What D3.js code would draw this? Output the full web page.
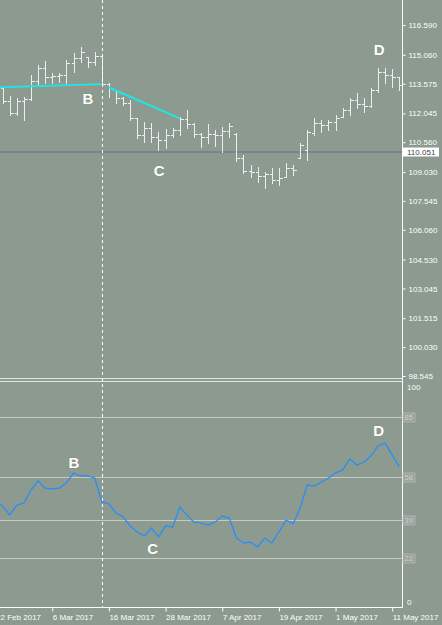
<!DOCTYPE html>
<html>
<head>
<meta charset="UTF-8">
<title>USDJPY Daily</title>
<style>
  body { margin: 0; padding: 0; background: #8c9a90; }
  svg { display: block; }
  text { font-family: "Liberation Sans", Arial, sans-serif; }
</style>
<script src="https://cdn.jsdelivr.net/npm/d3@7"></script>
</head>
<body>
<script>
// daily bars, bar index 1 = 23 Feb 2017 (index 0 = 22 Feb 2017)
const firstBar = 1;
const opens  = [113.351,112.683,112.066,112.683,112.785,113.711,114.379,113.916,113.968,114.019,114.636,114.893,114.945,114.688,114.996,113.557,113.248,112.837,112.580,111.809,110.934,111.294,110.832,110.677,110.934,111.192,111.757,111.500,110.986,110.832,110.986,110.934,111.140,110.986,109.752,109.084,109.032,108.827,108.929,108.621,108.775,109.238,109.752,110.163,111.037,111.551,111.449,111.603,111.860,112.220,112.734,112.528,112.425,113.248,114.174,114.019,113.916];
const highs  = [113.402,112.940,112.837,112.888,114.019,114.533,114.739,114.122,114.122,114.791,115.150,115.459,114.945,115.202,114.996,113.608,113.248,112.888,112.734,111.809,111.603,111.551,111.089,111.243,111.294,111.860,112.220,111.551,111.037,111.500,111.192,111.346,111.551,111.037,109.906,109.392,109.289,109.032,109.238,109.238,109.495,109.392,110.523,111.192,111.809,111.706,111.706,111.963,112.323,112.837,113.094,112.837,113.351,114.379,114.379,114.328,113.916];
const lows   = [112.580,111.963,111.963,111.706,112.734,113.505,113.608,113.608,113.659,113.608,114.174,114.688,114.431,114.533,113.505,112.888,112.580,112.477,111.706,110.780,110.575,110.575,110.163,110.266,110.832,110.934,111.294,110.832,110.318,110.523,110.369,110.060,110.832,109.598,108.981,108.775,108.518,108.210,108.467,108.364,108.775,108.878,109.752,109.649,110.934,111.089,111.192,111.192,111.860,111.963,112.323,112.117,112.374,113.145,113.608,113.402,113.248];
const closes = [112.683,112.066,112.683,112.785,113.711,114.379,113.916,113.968,114.019,114.636,114.893,115.202,114.688,114.996,113.557,113.351,112.837,112.580,111.809,110.934,111.294,110.832,110.677,110.934,111.192,111.757,111.500,110.986,110.832,110.986,110.934,111.140,111.397,109.752,109.084,109.032,108.827,108.929,108.621,108.724,109.238,109.135,110.420,111.089,111.551,111.449,111.603,111.809,112.220,112.734,112.528,112.425,113.248,114.174,114.019,113.916,113.505];

// oscillator, one value per bar from index 0
const osc = [47.8,45.1,41.1,45.5,46.4,52.2,56.3,53.1,52.7,53.1,55.4,59.8,58.5,58.5,57.6,46.9,46.0,42.0,40.2,36.2,33.5,31.7,35.3,31.3,36.2,35.7,44.6,41.1,37.9,37.5,36.6,37.9,40.6,39.7,30.8,28.6,29.0,26.8,30.8,28.6,33.5,38.8,37.1,44.2,54.5,54.0,55.8,57.6,59.8,61.2,66.1,63.4,64.7,67.4,71.9,73.2,67.9,62.5];
const oscLevels = [85, 58, 39, 22];

const priceTicks = [116.590,115.060,113.575,112.045,110.560,109.030,107.545,106.060,104.530,103.045,101.515,100.030,98.545];
const dateTickIdx = [0, 8, 16, 24, 32, 40, 48, 56];
const dateLabels = ["22 Feb 2017","6 Mar 2017","16 Mar 2017","28 Mar 2017","7 Apr 2017","19 Apr 2017","1 May 2017","11 May 2017"];

const lastPrice = 110.051;
const separatorIdx = 15;

// drawn objects: [bar index, price]
const trendA = [[0, 113.377], [15, 113.541]];
const trendARed = [[0, 113.438], [15, 113.438]];
const trendB = [[16, 113.377], [26, 111.793]];

// wave labels: [text, bar index, value]
const priceNotes = [["B", 13.05, 112.80], ["C", 23.08, 109.135], ["D", 54.15, 115.32]];
const oscNotes = [["B", 11.07, 64.7], ["C", 22.16, 26.1], ["D", 54.08, 78.8]];

const W = 442, H = 625;
const right = 402, bottom = 607;

const x = d3.scaleLinear().domain([0, 57]).range([-4.4, 399.3]);
const y = d3.scaleLinear().domain([98.545, 116.590]).range([376, 25]);
const yo = d3.scaleLinear().domain([0, 100]).range([607, 383]);

const svg = d3.select("body").append("svg")
    .attr("width", W)
    .attr("height", H);

svg.append("rect").attr("width", W).attr("height", H).attr("fill", "#8c9a90");

const defs = svg.append("defs");
defs.append("clipPath").attr("id", "clipPrice")
    .append("rect").attr("x", 0).attr("y", 0).attr("width", right).attr("height", 378);
defs.append("clipPath").attr("id", "clipOsc")
    .append("rect").attr("x", 0).attr("y", 382).attr("width", right).attr("height", bottom - 382);

const pricePane = svg.append("g").attr("clip-path", "url(#clipPrice)");
const oscPane = svg.append("g").attr("clip-path", "url(#clipOsc)");

// last price line
pricePane.append("line")
    .attr("x1", 0).attr("x2", right)
    .attr("y1", Math.round(y(lastPrice))).attr("y2", Math.round(y(lastPrice)))
    .attr("stroke", "#76848c").attr("stroke-width", 2);

// OHLC bars
const bars = opens.map((o, k) => ({ i: k + firstBar, o: o, h: highs[k], l: lows[k], c: closes[k] }));
const bx = d => Math.round(x(d.i)) + 0.5;
const ry = v => Math.round(y(v)) + 0.5;
const barG = pricePane.append("g")
    .attr("stroke", "#eceef4").attr("stroke-width", 1).attr("shape-rendering", "crispEdges");
barG.selectAll("line.hl").data(bars).enter().append("line")
    .attr("x1", bx).attr("x2", bx)
    .attr("y1", d => Math.round(y(d.h))).attr("y2", d => Math.round(y(d.l)) + 1);
barG.selectAll("line.op").data(bars).enter().append("line")
    .attr("x1", d => bx(d) - 3).attr("x2", bx)
    .attr("y1", d => ry(d.o)).attr("y2", d => ry(d.o));
barG.selectAll("line.cl").data(bars).enter().append("line")
    .attr("x1", bx).attr("x2", d => bx(d) + 3)
    .attr("y1", d => ry(d.c)).attr("y2", d => ry(d.c));

// trend lines
const tl = d3.line().x(d => x(d[0])).y(d => y(d[1]));
pricePane.append("path").attr("d", tl(trendARed))
    .attr("fill", "none").attr("stroke", "#d8786a").attr("stroke-width", 1);
pricePane.append("path").attr("d", tl(trendA))
    .attr("fill", "none").attr("stroke", "#1ee6e6").attr("stroke-width", 2);
pricePane.append("path").attr("d", tl(trendB))
    .attr("fill", "none").attr("stroke", "#1ee6e6").attr("stroke-width", 2);

// oscillator levels
oscPane.selectAll("line.lvl").data(oscLevels).enter().append("line")
    .attr("x1", 0).attr("x2", right)
    .attr("y1", d => Math.round(yo(d)) + 0.5).attr("y2", d => Math.round(yo(d)) + 0.5)
    .attr("stroke", "#c6c9c4").attr("stroke-width", 1);

// oscillator line
oscPane.append("path")
    .datum(osc)
    .attr("d", d3.line().x((d, i) => x(i)).y(d => yo(d)))
    .attr("fill", "none").attr("stroke", "#1e8fff").attr("stroke-width", 1.2);

// period separator
svg.append("line")
    .attr("x1", Math.round(x(separatorIdx)) + 0.5).attr("x2", Math.round(x(separatorIdx)) + 0.5)
    .attr("y1", 0).attr("y2", bottom)
    .attr("stroke", "#ffffff").attr("stroke-width", 1).attr("stroke-dasharray", "3,3");

// wave labels
function notes(g, data, sy) {
    g.selectAll("text.note").data(data).enter().append("text")
        .attr("x", d => x(d[1])).attr("y", d => sy(d[2]))
        .attr("text-anchor", "middle").attr("dominant-baseline", "central")
        .attr("font-size", "15px").attr("font-weight", "bold")
        .attr("fill", "#ffffff")
        .attr("stroke", "rgba(70,80,75,0.35)").attr("stroke-width", 0.6)
        .attr("paint-order", "stroke")
        .text(d => d[0]);
}
notes(svg, priceNotes, y);
notes(svg, oscNotes, yo);

// frame
const frame = svg.append("g").attr("stroke", "#ffffff").attr("shape-rendering", "crispEdges");
frame.append("line").attr("x1", right + 0.5).attr("x2", right + 0.5).attr("y1", 0).attr("y2", bottom + 1);
frame.append("line").attr("x1", 0).attr("x2", right + 1).attr("y1", bottom + 0.5).attr("y2", bottom + 0.5);
frame.append("line").attr("x1", 0).attr("x2", right).attr("y1", 378.5).attr("y2", 378.5).attr("stroke", "#e4e8e4");
frame.append("line").attr("x1", 0).attr("x2", right).attr("y1", 381.5).attr("y2", 381.5).attr("stroke", "#e4e8e4");

// price axis
const pAxis = svg.append("g")
    .attr("transform", `translate(${right + 0.5},0)`)
    .call(d3.axisRight(y).tickValues(priceTicks).tickFormat(d3.format(".3f")).tickSize(3).tickPadding(3));
pAxis.select(".domain").remove();
pAxis.selectAll("line").attr("stroke", "#ffffff");
pAxis.selectAll("text").attr("fill", "#ffffff").attr("font-size", "8px")
    .attr("font-family", "Liberation Sans, Arial, sans-serif");

// last price tag
const tagY = Math.round(y(lastPrice));
svg.append("rect")
    .attr("x", right + 1).attr("y", tagY - 4.5).attr("width", 36).attr("height", 9)
    .attr("fill", "#ffffff");
svg.append("text")
    .attr("x", right + 5).attr("y", tagY).attr("dy", "0.34em")
    .attr("font-size", "8px").attr("fill", "#3c4640")
    .text(d3.format(".3f")(lastPrice));

// oscillator axis
const oAxis = svg.append("g");
oAxis.selectAll("rect").data(oscLevels).enter().append("rect")
    .attr("x", right + 1).attr("y", d => Math.round(yo(d)) - 4).attr("width", 12).attr("height", 9)
    .attr("fill", "#9aa49c").attr("stroke", "#b4bab4").attr("stroke-width", 0.8);
oAxis.selectAll("text.lv").data(oscLevels).enter().append("text")
    .attr("x", right + 2.5).attr("y", d => Math.round(yo(d)) + 0.5).attr("dy", "0.34em")
    .attr("font-size", "7.5px").attr("fill", "#cdd1cd")
    .text(d => d);
oAxis.append("text").attr("x", right + 5).attr("y", yo(100) + 1).attr("dy", "0.75em")
    .attr("font-size", "8px").attr("fill", "#ffffff").text("100");
oAxis.append("text").attr("x", right + 5).attr("y", yo(0) - 2)
    .attr("font-size", "8px").attr("fill", "#ffffff").text("0");

// date axis
const dAxis = svg.append("g")
    .attr("transform", `translate(0,${bottom + 0.5})`)
    .call(d3.axisBottom(x).tickValues(dateTickIdx).tickFormat((d, k) => dateLabels[k]).tickSize(4).tickPadding(3));
dAxis.select(".domain").remove();
dAxis.selectAll("line").attr("stroke", "#ffffff");
dAxis.selectAll("text").attr("fill", "#ffffff").attr("font-size", "8px")
    .attr("text-anchor", "start").attr("x", 0)
    .attr("font-family", "Liberation Sans, Arial, sans-serif");
</script>
</body>
</html>
